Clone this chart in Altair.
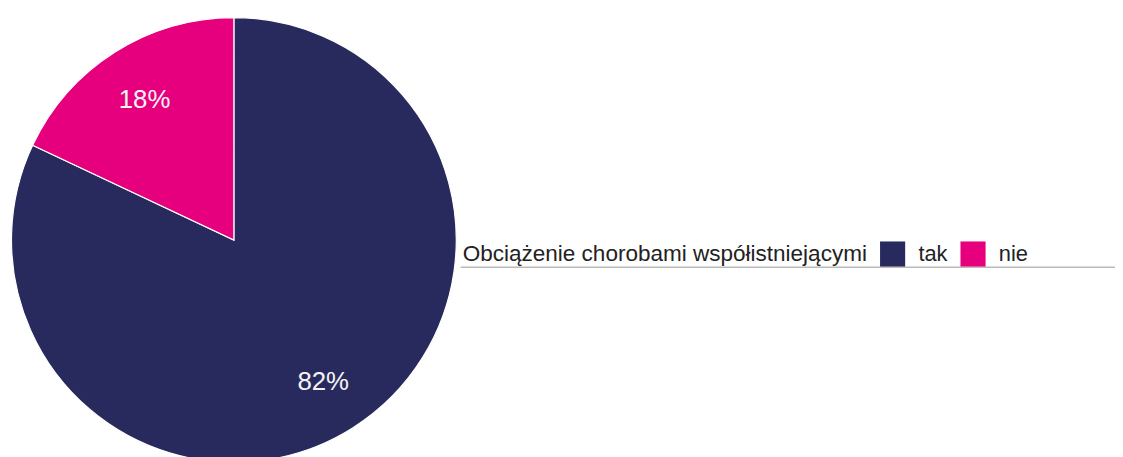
import altair as alt
import pandas as pd

categories = ["tak", "nie"]
values = [82, 18]
labels = ["82%", "18%"]
colors = ["#282a5e", "#e6007e"]
legend_title = "Obciążenie chorobami współistniejącymi"

df = pd.DataFrame({"kat": categories, "val": values, "lab": labels, "ord": [0, 1]})

color = alt.Color(
    "kat:N",
    scale=alt.Scale(domain=categories, range=colors),
    legend=alt.Legend(
        title=legend_title,
        orient="none",
        legendX=458,
        legendY=233,
        direction="horizontal",
        titleOrient="left",
        titleFontSize=22.7,
        titleFontWeight="normal",
        titleFont="Liberation Sans",
        titleColor="#222222",
        titlePadding=12,
        titleLimit=700,
        titleBaseline="middle",
        labelFontSize=22,
        labelFont="Liberation Sans",
        labelColor="#222222",
        labelOffset=13,
        columnPadding=12,
        symbolType="square",
        symbolSize=640,
        symbolStrokeWidth=0,
        symbolOpacity=1,
    ),
)

base = alt.Chart(df).encode(
    theta=alt.Theta("val:Q", stack=True),
    order=alt.Order("ord:Q"),
)

pie = base.mark_arc(outerRadius=224, stroke="white", strokeWidth=1.2).encode(
    color=color,
    x=alt.value(227.5),
    y=alt.value(232),
)

text = base.mark_text(radius=168, fontSize=26, dy=1, font="Liberation Sans", color="#f4f4f4").encode(
    text="lab:N",
    x=alt.value(227.5),
    y=alt.value(232),
)

line = alt.Chart(df).mark_rule(color="#b4b4b4", strokeWidth=1).encode(
    x=alt.value(456), x2=alt.value(1115), y=alt.value(259.5)
)

chart = alt.layer(pie, text, line).properties(
    width=1115,
    height=449,
    padding=0,
    autosize=alt.AutoSizeParams(type="none"),
).configure_view(stroke=None)

chart.save("out.html", embed_options={"renderer": "svg", "actions": False})
